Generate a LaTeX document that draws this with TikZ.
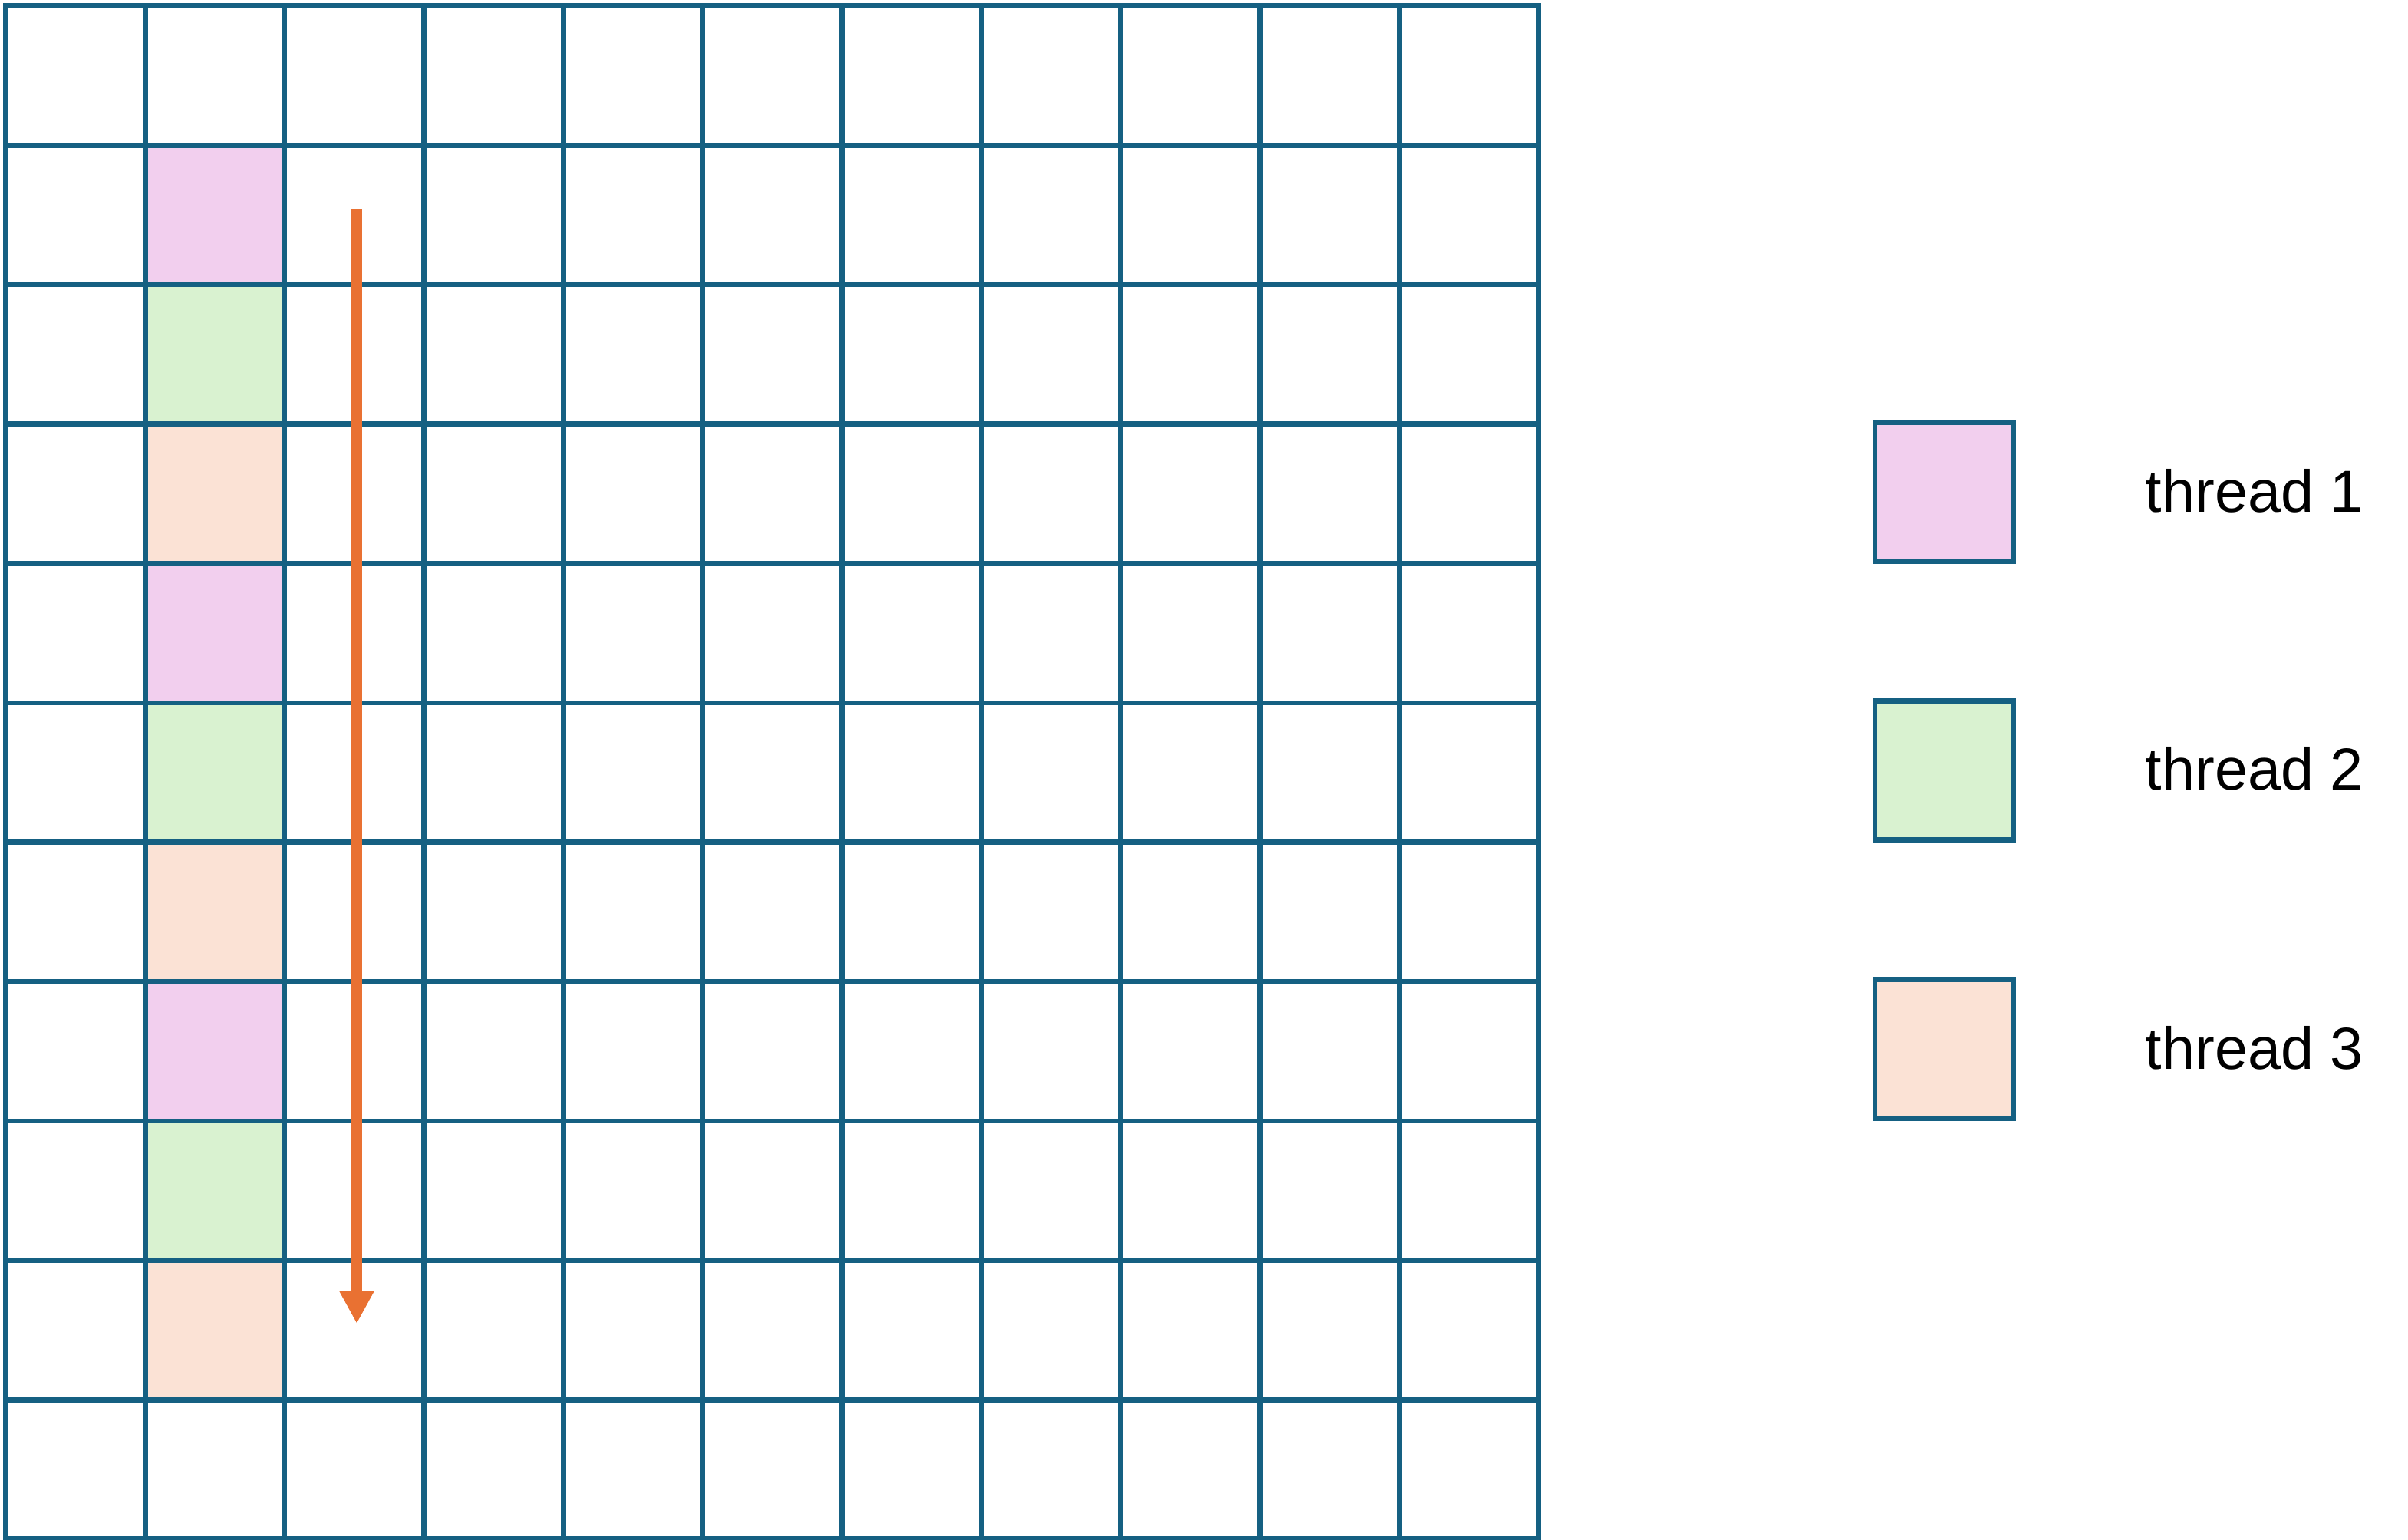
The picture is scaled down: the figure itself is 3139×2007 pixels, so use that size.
\documentclass[tikz,border=0pt]{standalone}
\usepackage{fontspec}
\setmainfont{Liberation Sans}
\usetikzlibrary{arrows.meta}
\definecolor{gridblue}{HTML}{156082}
\definecolor{arroworange}{HTML}{E97132}
\definecolor{tpink}{HTML}{F2CFEE}
\definecolor{tgreen}{HTML}{D9F2D0}
\definecolor{tpeach}{HTML}{FBE2D5}
\tikzset{
  gridline/.style={draw=gridblue, line width=0.068cm},
  cellfill/.style={draw=none, minimum size=1.8165cm, inner sep=0pt, outer sep=0pt},
  legbox/.style={draw=gridblue, line width=0.065cm, minimum size=1.81cm, inner sep=0pt},
  leglabel/.style={anchor=base west, inner sep=0pt, font=\fontsize{22}{26}\selectfont},
  flowarrow/.style={draw=arroworange, line width=0.14cm, -{Triangle[width=0.42cm,length=0.42cm]}}
}
\begin{document}
\begin{tikzpicture}[x=0.01cm,y=-0.01cm]
\useasboundingbox[fill=white] (0,0) rectangle (3139,2007);
% coloured cells in column 2
\foreach \r/\c in {1/tpink,2/tgreen,3/tpeach,4/tpink,5/tgreen,6/tpeach,7/tpink,8/tgreen,9/tpeach}{
  \node[cellfill, fill=\c] (cell\r) at ({7.7+181.65*1.5}, {7.7+181.65*(\r+0.5)}) {};
}
% grid
\foreach \i in {0,...,11}{
  \draw[gridline] ({7.7+181.65*\i}, 4.3) -- ({7.7+181.65*\i}, 2009.25);
  \draw[gridline] (4.3, {7.7+181.65*\i}) -- (2009.25, {7.7+181.65*\i});
}
% arrow
\coordinate (astart) at (465, 272.7);
\coordinate (aend) at (465, 1725);
\draw[flowarrow] (astart) -- (aend);
% legend
\node[legbox, fill=tpink]  (leg1) at (2534.5, 641) {};
\node[legbox, fill=tgreen] (leg2) at (2534.5, 1004) {};
\node[legbox, fill=tpeach] (leg3) at (2534.5, 1367) {};
\node[leglabel] (lab1) at (2796, 668) {thread 1};
\node[leglabel] (lab2) at (2796, 1030) {thread 2};
\node[leglabel] (lab3) at (2796, 1393) {thread 3};
\end{tikzpicture}
\end{document}
